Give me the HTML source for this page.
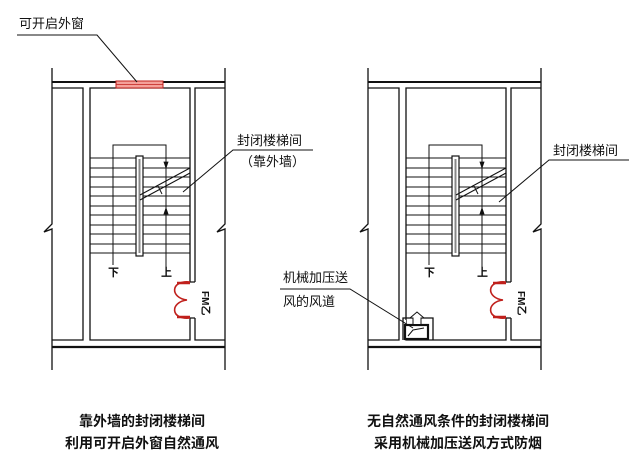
<!DOCTYPE html>
<html><head><meta charset="utf-8"><style>
html,body{margin:0;padding:0;background:#fff;}
svg{display:block;}
text{font-family:"Liberation Sans","Noto Sans CJK SC",sans-serif;fill:#111;}
</style></head><body>
<svg width="630" height="469" viewBox="0 0 630 469" xmlns="http://www.w3.org/2000/svg">
<defs>
<g id="plan" fill="none" stroke="#111" stroke-width="1.3">
  <path d="M52 68 V224 L44 232 L52 229 V370"/>
  <path d="M225 68 V224 L217 232 L225 229 V370"/>
  <line x1="52" y1="82" x2="225" y2="82" stroke-width="2"/>
  <path d="M52 88 H83 V340 H52"/>
  <path d="M225 88 H195 V282 M195 318 V340 H225"/>
  <path d="M190 282 V88 H90 V340 H190 V318"/>
  <path d="M190 282 H195 M190 318 H195"/>
  <line x1="52" y1="347" x2="225" y2="347" stroke-width="2.2"/>
  <g stroke-width="1">
    <line x1="90" y1="158" x2="190" y2="158"/><line x1="90" y1="168" x2="190" y2="168"/>
    <line x1="90" y1="177" x2="190" y2="177"/><line x1="90" y1="187" x2="190" y2="187"/>
    <line x1="90" y1="196" x2="190" y2="196"/><line x1="90" y1="206" x2="190" y2="206"/>
    <line x1="90" y1="215" x2="190" y2="215"/><line x1="90" y1="225" x2="190" y2="225"/>
    <line x1="90" y1="234" x2="190" y2="234"/><line x1="90" y1="244" x2="190" y2="244"/>
    <line x1="90" y1="253" x2="190" y2="253"/>
  </g>
  <rect x="136" y="156" width="7" height="100" fill="#fff" stroke-width="1.2"/>
  <rect x="138.5" y="159" width="2" height="94" fill="#888" stroke="none"/>
  <path d="M113 265 V145 H166 V270" stroke-width="1"/>
  <path d="M166 168 l-2 -6 h4 z M166 208 l-2 6 h4 z" fill="#111" stroke-width="0.8"/>
  <path d="M140 195 L190 168 M140 200 L190 173" stroke-width="1"/>
  <path d="M158 186 l4 8" stroke-width="1"/>
  <g stroke="#c0201c" stroke-width="1.6">
    <path d="M190 282 C170 280 170 298 187 300 C170 302 170 320 190 318"/>
    <path d="M177 283 H190 M177 317 H190" stroke-width="2.5"/>
  </g>
</g>
</defs>

<use href="#plan"/>
<use href="#plan" transform="translate(316,0)"/>

<rect x="116" y="81" width="47" height="7" fill="#f4a09a" stroke="#c0201c" stroke-width="1"/>
<line x1="116" y1="84.5" x2="163" y2="84.5" stroke="#c0201c" stroke-width="0.8"/>

<rect x="404" y="320" width="2" height="20" fill="#fff"/>
<path d="M403 340 V318 H433 V340" fill="none" stroke="#111" stroke-width="1.3"/>
<rect x="405" y="325" width="23" height="14" fill="#fff" stroke="#111" stroke-width="2.2"/>
<path d="M408 336 L413 330 L424 328" fill="none" stroke="#111" stroke-width="1"/>
<path d="M413 324 V318 H410 L417 312 L424 318 H421 V324" fill="#fff" stroke="#111" stroke-width="1"/>

<g font-size="11" font-weight="bold">
<text x="108" y="276">下</text><text x="161" y="276">上</text>
<text x="424" y="276">下</text><text x="477" y="276">上</text>
</g>
<g font-size="10" font-weight="bold">
<text transform="translate(202,291) rotate(90)">FM乙</text>
<text transform="translate(518,291) rotate(90)">FM乙</text>
</g>

<g fill="none" stroke="#111" stroke-width="1">
<path d="M17 35 H97 L137 82"/>
<path d="M183 192 L233 150 H313"/>
<path d="M499 202 L549 160 H629"/>
<path d="M280 289 H350 L413 328"/>
</g>

<g font-size="13">
<text x="19" y="28">可开启外窗</text>
<text x="237" y="145">封闭楼梯间</text>
<text x="240" y="166">（靠外墙）</text>
<text x="553" y="155">封闭楼梯间</text>
<text x="283" y="282">机械加压送</text>
<text x="283" y="306">风的风道</text>
</g>

<g font-size="14" font-weight="bold" text-anchor="middle">
<text x="142" y="426">靠外墙的封闭楼梯间</text>
<text x="142" y="448">利用可开启外窗自然通风</text>
<text x="458" y="426">无自然通风条件的封闭楼梯间</text>
<text x="458" y="448">采用机械加压送风方式防烟</text>
</g>
</svg>
</body></html>
